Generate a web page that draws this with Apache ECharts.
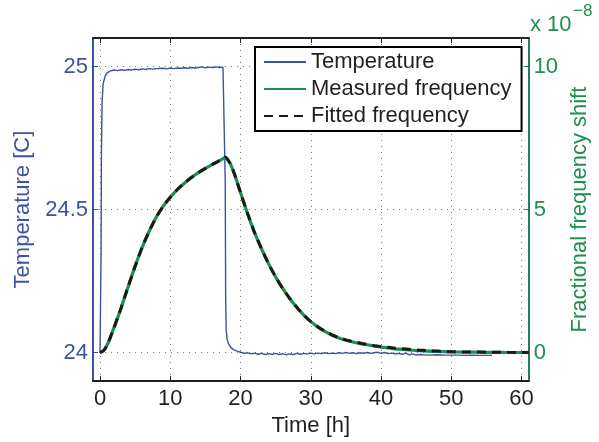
<!DOCTYPE html>
<html>
<head>
<meta charset="utf-8">
<script src="https://cdn.jsdelivr.net/npm/echarts@6/dist/echarts.min.js"></script>
<style>html,body{margin:0;padding:0;background:#fff}#c{width:599px;height:442px}</style>
</head>
<body>
<div id="c"></div>
<script>
// ---- Data ----
var xTicks = [0, 10, 20, 30, 40, 50, 60];
var tempTicks = [24, 24.5, 25];
var freqTicks = [0, 5, 10];

var tempTime = [0,0.1,0.15,0.2,0.3,0.45,0.7,1,1.5,2,2.5,3,3.5,4,4.5,5,5.5,6,6.5,7,7.5,8,9,9.5,10,10.5,11,11.5,12,12.5,13,13.5,14,14.5,15,15.5,16,16.5,17,17.5,17.75,17.82,17.88,17.95,18.1,18.3,18.6,19,19.5,20,20.5,21,21.5,22,22.5,23,23.5,24,24.5,25,25.5,26,26.5,27,27.5,28,28.5,29,29.5,30,30.5,31,31.5,32,32.5,33,33.5,34,34.5,35,35.5,36,36.5,37,37.5,38,38.5,39,39.5,40,40.5,41,41.5,42,42.5,43,43.5,44,44.5,45,45.5,46,47,48,49,50,51,52,53,54,55,55.8];
var tempValue = [24.0,24.0,24.35,24.7,24.88,24.94,24.965,24.978,24.985,24.988,24.986,24.989,24.987,24.99,24.988,24.991,24.989,24.992,24.99,24.993,24.991,24.993,24.994,24.992,24.995,24.993,24.995,24.994,24.996,24.994,24.997,24.995,24.997,24.999,24.996,24.998,24.997,24.999,24.997,24.998,24.996,24.6,24.2,24.08,24.045,24.03,24.018,24.01,24.005,24.001,23.997,23.999,23.995,23.998,23.994,23.997,23.993,23.996,23.994,23.997,23.993,23.996,23.992,23.995,23.993,23.997,23.994,23.997,23.995,23.998,23.995,23.998,23.996,23.999,23.996,23.998,23.996,23.999,23.997,24.0,23.997,23.999,23.996,23.999,23.997,24.0,23.997,23.999,24.001,23.997,24.0,23.996,23.998,23.995,23.997,23.994,23.998,23.992,23.995,23.991,23.993,23.992,23.991,23.992,23.991,23.991,23.991,23.99,23.991,23.99,23.99,23.99];

var freqTime = [0,0.5,1,1.5,2,2.5,3,3.5,4,5,6,7,8,9,10,11,12,13,14,15,16,17,17.5,17.8,18.0,18.5,19,19.5,20,21,22,23,24,25,26,27,28,29,30,31,32,33,34,35,36,37,38,39,40,41,42,43,44,45,46,47,48,49,50,52,54,56,58,61];
var measuredValue = [0,0.07,0.26,0.55,0.88,1.21,1.56,1.93,2.3,3.02,3.68,4.24,4.73,5.12,5.43,5.7,5.92,6.12,6.29,6.44,6.58,6.71,6.78,6.83,6.8,6.62,6.33,5.97,5.59,4.86,4.19,3.62,3.1,2.64,2.24,1.89,1.58,1.31,1.08,0.89,0.74,0.61,0.51,0.43,0.37,0.31,0.27,0.23,0.19,0.16,0.13,0.11,0.09,0.07,0.055,0.045,0.035,0.03,0.02,0.015,0.01,0.005,0.0,0.0];
var fittedValue = [0,0.06,0.25,0.55,0.88,1.21,1.56,1.93,2.3,3.02,3.68,4.24,4.73,5.12,5.43,5.7,5.92,6.12,6.29,6.44,6.58,6.71,6.78,6.83,6.8,6.62,6.33,5.97,5.59,4.86,4.19,3.62,3.1,2.64,2.24,1.89,1.58,1.31,1.08,0.9,0.75,0.62,0.52,0.44,0.38,0.33,0.28,0.24,0.21,0.18,0.15,0.13,0.11,0.09,0.075,0.06,0.05,0.04,0.03,0.02,0.015,0.01,0.005,0.0];

function pairs(xs, ys){ return xs.map(function(x,i){ return [x, ys[i]]; }); }

var FONT = '"Liberation Sans", Arial, Helvetica, sans-serif';
var BLUE = '#3a53a4', GREEN = '#1e8f4e', GREEN_AX = '#1f7f5c', BLACK = '#231f20', GRID = '#7a7a7a';
var NOSYM = {color: 'rgba(0,0,0,0)', borderColor: 'rgba(0,0,0,0)', borderWidth: 0, opacity: 0};

var chart = echarts.init(document.getElementById('c'), null, {renderer:'canvas'});
chart.setOption({
  animation: false,
  textStyle: {fontFamily: FONT},
  grid: {left: 93, right: 69, top: 38, bottom: 57, containLabel: false},
  legend: {
    orient: 'vertical', left: 255, top: 47,
    itemWidth: 42, itemHeight: 14, itemGap: 5,
    padding: [4, 10, 4, 8],
    borderColor: '#000', borderWidth: 2, backgroundColor: '#fff',
    itemStyle: NOSYM,
    textStyle: {fontSize: 22, color: BLACK, fontFamily: FONT, lineHeight: 22},
    data: ['Temperature', 'Measured frequency', 'Fitted frequency']
  },
  xAxis: [{
    type: 'value', position: 'bottom', min: -1, max: 61,
    name: 'Time [h]', nameLocation: 'middle', nameGap: 27,
    nameTextStyle: {fontSize: 22, color: BLACK, fontFamily: FONT},
    axisLine: {show: true, onZero: false, lineStyle: {color: BLACK, width: 2}},
    axisTick: {show: true, inside: true, length: 5, customValues: xTicks, lineStyle: {color: BLACK, width: 1}},
    axisLabel: {customValues: xTicks, fontSize: 22, color: BLACK, margin: 7, fontFamily: FONT},
    splitLine: {show: true, lineStyle: {color: GRID, width: 1, type: [1, 5]}}
  }, {
    type: 'value', position: 'top', min: -1, max: 61,
    axisLine: {show: true, onZero: false, lineStyle: {color: BLACK, width: 2}},
    axisTick: {show: true, inside: true, length: 5, customValues: xTicks, lineStyle: {color: BLACK, width: 1}},
    axisLabel: {show: false},
    splitLine: {show: false}
  }],
  yAxis: [{
    type: 'value', position: 'left', min: 23.9, max: 25.1,
    name: 'Temperature [C]', nameLocation: 'middle', nameGap: 50, nameRotate: 90,
    nameTextStyle: {fontSize: 22, color: BLUE, fontFamily: FONT},
    axisLine: {show: true, onZero: false, lineStyle: {color: BLUE, width: 2}},
    axisTick: {show: true, inside: true, length: 5, customValues: tempTicks, lineStyle: {color: BLUE, width: 1}},
    axisLabel: {customValues: tempTicks, fontSize: 22, color: BLUE, margin: 5, fontFamily: FONT},
    splitLine: {show: true, lineStyle: {color: GRID, width: 1, type: [1, 5]}}
  }, {
    type: 'value', position: 'right', min: -1, max: 11,
    name: 'Fractional frequency shift', nameLocation: 'middle', nameGap: 28, nameRotate: 90,
    nameTextStyle: {fontSize: 22, color: GREEN, fontFamily: FONT},
    axisLine: {show: true, onZero: false, lineStyle: {color: GREEN_AX, width: 2}},
    axisTick: {show: true, inside: true, length: 5, customValues: freqTicks, lineStyle: {color: GREEN_AX, width: 1}},
    axisLabel: {customValues: freqTicks, fontSize: 22, color: GREEN, margin: 5, fontFamily: FONT},
    splitLine: {show: false}
  }],
  graphic: [
    {type: 'text', left: 530, top: 14, style: {text: 'x 10', fontSize: 22, fill: GREEN, fontFamily: FONT}},
    {type: 'text', left: 573, top: 3, style: {text: '\u22128', fontSize: 17, fill: GREEN, fontFamily: FONT}}
  ],
  series: [{
    name: 'Temperature', type: 'line', xAxisIndex: 0, yAxisIndex: 0,
    data: pairs(tempTime, tempValue), symbol: 'none', showSymbol: false,
    lineStyle: {color: BLUE, width: 1.4}, itemStyle: {color: BLUE}, z: 2
  }, {
    name: 'Measured frequency', type: 'line', xAxisIndex: 0, yAxisIndex: 1,
    data: pairs(freqTime, measuredValue), symbol: 'none', showSymbol: false, smooth: 0.25,
    lineStyle: {color: GREEN, width: 3.2}, itemStyle: {color: GREEN}, z: 3
  }, {
    name: 'Fitted frequency', type: 'line', xAxisIndex: 0, yAxisIndex: 1,
    data: pairs(freqTime, fittedValue), symbol: 'none', showSymbol: false, smooth: 0.25,
    lineStyle: {color: '#1a1a1a', width: 3, type: [9, 6]}, itemStyle: {color: '#1a1a1a'}, z: 4
  }]
});
</script>
</body>
</html>
